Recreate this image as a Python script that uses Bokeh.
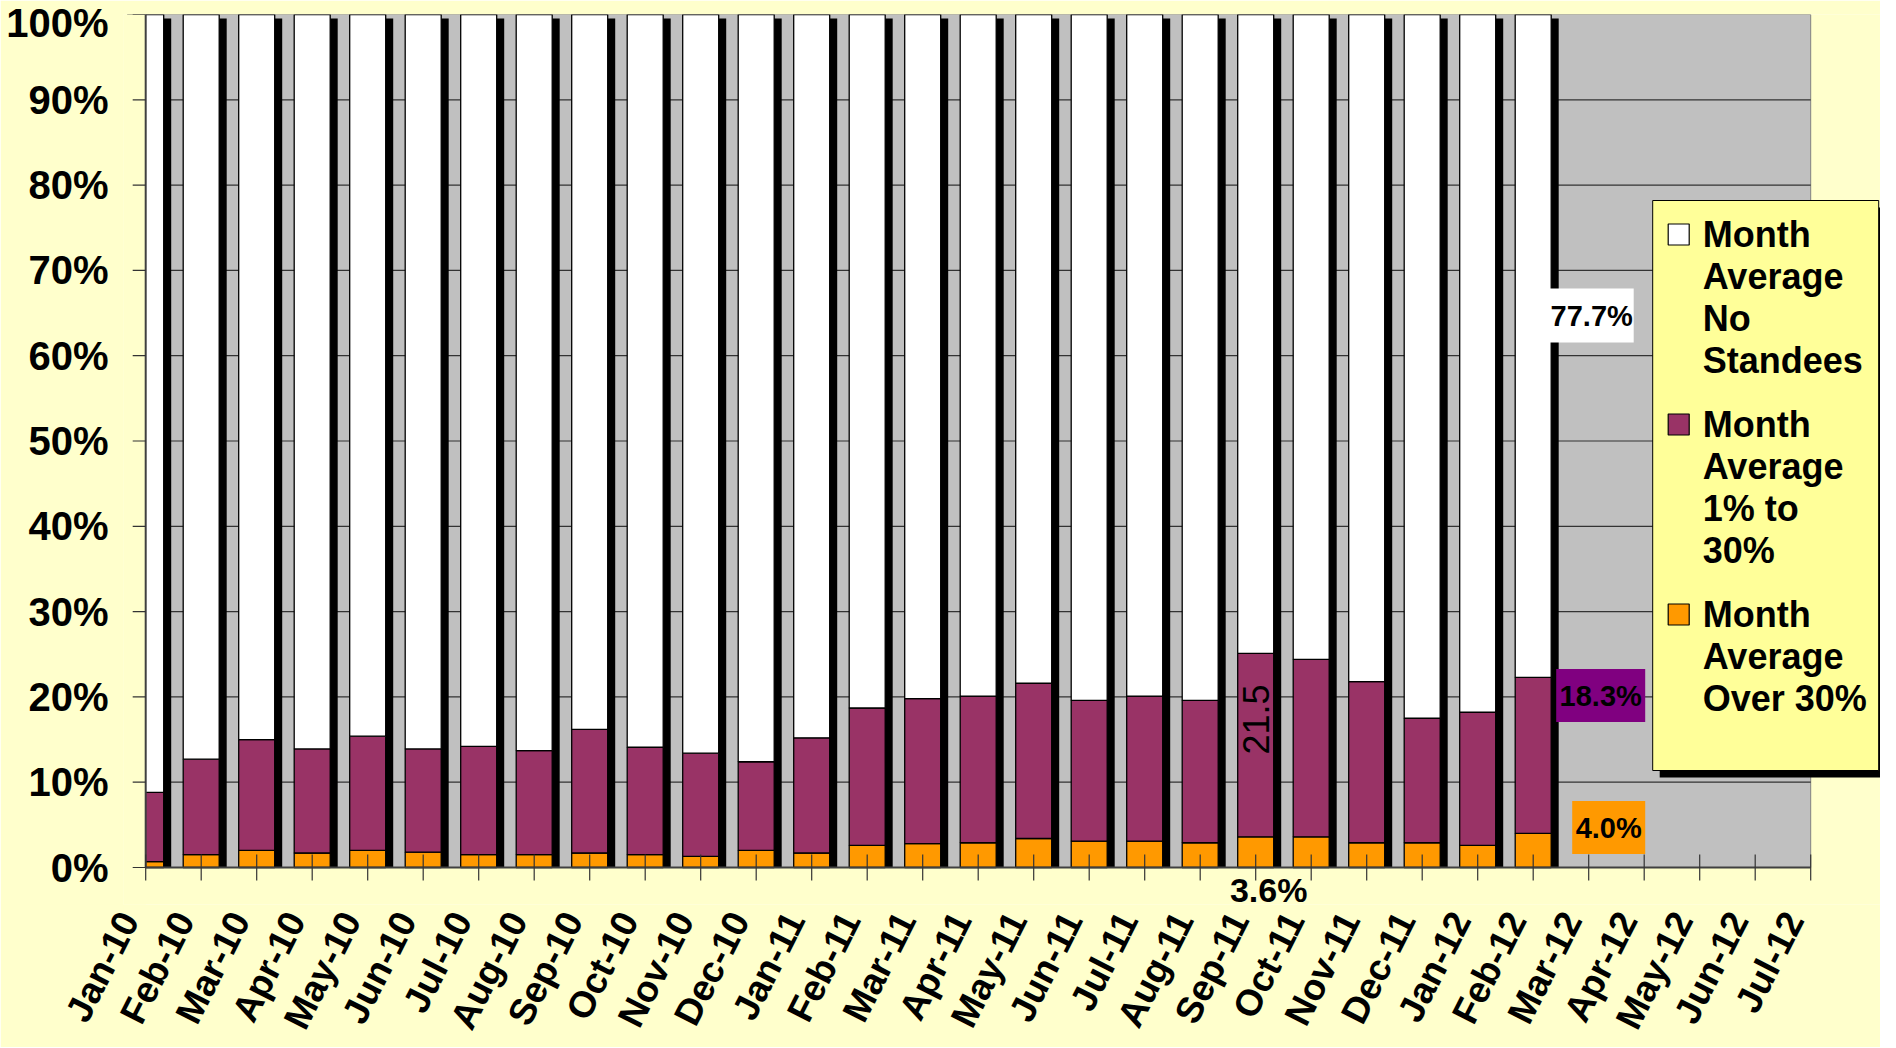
from bokeh.plotting import figure
from bokeh.models import Range1d, FixedTicker, PrintfTickFormatter, ColumnDataSource, CustomJSTickFormatter
from bokeh.embed import file_html
from bokeh.resources import INLINE
from bokeh.core.properties import value
from bokeh.transform import dodge
import math

# ---------------- data ----------------
months = ["Jan-10", "Feb-10", "Mar-10", "Apr-10", "May-10", "Jun-10", "Jul-10", "Aug-10",
          "Sep-10", "Oct-10", "Nov-10", "Dec-10", "Jan-11", "Feb-11", "Mar-11", "Apr-11",
          "May-11", "Jun-11", "Jul-11", "Aug-11", "Sep-11", "Oct-11", "Nov-11", "Dec-11",
          "Jan-12", "Feb-12", "Mar-12", "Apr-12", "May-12", "Jun-12", "Jul-12"]

# Month Average Over 30%
over30 = [0.7, 1.5, 2.0, 1.7, 2.0, 1.8, 1.5, 1.5, 1.7, 1.5, 1.3, 2.0, 1.7,
          2.6, 2.8, 2.9, 3.4, 3.1, 3.1, 2.9, 3.6, 3.6, 2.9, 2.9, 2.6, 4.0]
# Month Average 1% to 30%
mid = [8.1, 11.2, 13.0, 12.2, 13.4, 12.1, 12.7, 12.2, 14.5, 12.6, 12.1, 10.4, 13.5,
       16.1, 17.0, 17.2, 18.2, 16.5, 17.0, 16.7, 21.5, 20.8, 18.9, 14.6, 15.6, 18.3]
# Month Average No Standees
none_ = [91.2, 87.3, 85.0, 86.1, 84.6, 86.1, 85.8, 86.3, 83.8, 85.9, 86.6, 87.6, 84.8,
         81.3, 80.2, 79.9, 78.4, 80.4, 79.9, 80.4, 74.9, 75.6, 78.2, 82.5, 81.8, 77.7]

series_names = ["Month Average No Standees", "Month Average 1% to 30%", "Month Average Over 30%"]
legend_lines = [["Month", "Average", "No", "Standees"],
                ["Month", "Average", "1% to", "30%"],
                ["Month", "Average", "Over 30%"]]
y_ticks = [0, 10, 20, 30, 40, 50, 60, 70, 80, 90, 100]

# ---------------- style ----------------
FONT_NAME = "Liberation Sans"
FONT = value(FONT_NAME)
C_WHITE = "#FFFFFF"
C_PURPLE = "#993366"
C_ORANGE = "#FF9900"
C_PLOT = "#C0C0C0"
C_BG = "#FFFFCC"
C_LEG = "#FFFF99"

PX_X = 55.5            # px per category
PX_Y = 8.53            # px per percent
X_LOW = -0.4           # frame starts a little left of the plot area
Y_LOW = -37 / PX_Y     # frame reaches a little below the 0% line
FRAME_W = int(round(1735 - X_LOW * PX_X))
FRAME_H = int(round((100 - Y_LOW) * PX_Y))
LBL_SHIFT = 0.3        # label anchor shift so rotated label ends sit at the tick

n_cat = len(months)
last = n_cat - 1
src = ColumnDataSource(dict(x=list(range(len(over30))), over30=over30, mid=mid, none=none_))

p = figure(frame_width=FRAME_W, frame_height=FRAME_H,
           x_range=Range1d(X_LOW, X_LOW + FRAME_W / PX_X), y_range=Range1d(Y_LOW, 100),
           output_backend="svg", toolbar_location=None,
           min_border_left=int(round(145 + X_LOW * PX_X)), min_border_right=0,
           min_border_top=14, min_border_bottom=126)
p.background_fill_color = C_BG
p.border_fill_color = C_BG
p.outline_line_color = None
p.grid.visible = False

# plot area
p.quad(left=[0], right=[last], bottom=[0], top=[100], fill_color=C_PLOT,
       line_color="#808080", line_width=1)
gy = y_ticks[1:-1]
p.segment(x0=[0] * len(gy), x1=[last] * len(gy), y0=gy, y1=gy, line_color="#333333", line_width=1.2)

# bar shadows
bw = 36 / PX_X
p.vbar(x=dodge("x", 7.5 / PX_X), width=bw, top=100 - 4 / PX_Y, bottom=0, source=src,
       fill_color="black", line_color=None)
# stacked bars
p.vbar_stack(["over30", "mid", "none"], x="x", width=bw, source=src,
             fill_color=[C_ORANGE, C_PURPLE, C_WHITE], line_color="black", line_width=1.3)

# clip everything left of the plot area (first bar is cut in half by the axis)
p.quad(left=[X_LOW - 1], right=[0], bottom=[Y_LOW - 1], top=[101], fill_color=C_BG, line_color=None)

# axis lines and ticks
p.segment(x0=[0], x1=[last], y0=[0], y1=[0], line_color="#404040", line_width=2)
p.segment(x0=[0], x1=[0], y0=[0], y1=[100], line_color="#404040", line_width=2)
tk = list(range(n_cat))
p.segment(x0=tk, x1=tk, y0=[-13 / PX_Y] * n_cat, y1=[13 / PX_Y] * n_cat,
          line_color="#333333", line_width=1.2)
p.segment(x0=[-13 / PX_X] * len(y_ticks), x1=[0] * len(y_ticks), y0=y_ticks, y1=y_ticks,
          line_color="#333333", line_width=1.2)

# axes (labels only)
p.yaxis.ticker = FixedTicker(ticks=y_ticks)
p.yaxis.formatter = PrintfTickFormatter(format="%d%%")
p.yaxis.major_label_text_font = FONT_NAME
p.yaxis.major_label_text_font_style = "bold"
p.yaxis.major_label_text_font_size = "40px"
p.yaxis.major_label_text_color = "black"
p.yaxis.major_tick_out = 0
p.yaxis.major_tick_in = 0
p.yaxis.minor_tick_out = 0
p.yaxis.minor_tick_in = 0
p.yaxis.axis_line_color = None
p.yaxis.major_label_standoff = 15

p.xaxis.ticker = FixedTicker(ticks=[t - LBL_SHIFT for t in tk])
p.xaxis.formatter = CustomJSTickFormatter(args=dict(labels=months, shift=LBL_SHIFT),
                                          code="const i = Math.round(tick + shift); return labels[i] || '';")
p.xaxis.major_label_orientation = math.radians(63)
p.xaxis.major_label_text_font = FONT_NAME
p.xaxis.major_label_text_font_style = "bold"
p.xaxis.major_label_text_font_size = "37px"
p.xaxis.major_label_text_color = "black"
p.xaxis.major_tick_in = 0
p.xaxis.major_tick_out = 0
p.xaxis.minor_tick_out = 0
p.xaxis.minor_tick_in = 0
p.xaxis.axis_line_color = None
p.xaxis.major_label_standoff = 10

# ---------------- legend (drawn) ----------------
def dx(px):  # screenshot px -> data x
    return (px - 153) / PX_X

def dy(py):
    return (875 - py) / PX_Y

lx0, lx1, ly0, ly1 = 1660, 1886, 208, 778
p.quad(left=[dx(lx0 + 7)], right=[dx(lx1 + 7)], top=[dy(ly0 + 7)], bottom=[dy(ly1 + 7)],
       fill_color="black", line_color=None)
p.quad(left=[dx(lx0)], right=[dx(lx1)], top=[dy(ly0)], bottom=[dy(ly1)],
       fill_color=C_LEG, line_color="black", line_width=1)

sw_colors = [C_WHITE, C_PURPLE, C_ORANGE]
tx, ty, tt = [], [], []
sx, sy = [], []
y_start = 242
for k, lines in enumerate(legend_lines):
    y_item = y_start + 190 * k
    sx.append(dx(1686))
    sy.append(dy(y_item))
    for j, line in enumerate(lines):
        tx.append(dx(1710))
        ty.append(dy(y_item + 42 * j))
        tt.append(line)
p.rect(x=sx, y=sy, width=21, height=21, width_units="screen", height_units="screen",
       fill_color=sw_colors, line_color="black", line_width=1.2)
p.text(x=tx, y=ty, text=tt, text_font=FONT, text_font_style="bold", text_font_size="36px",
       text_baseline="middle", text_align="left", text_color="black")

# ---------------- data labels ----------------
lab_x = [dx(1599), dx(1608), dx(1616)]
lab_y = [dy(323), dy(703), dy(835)]
lab_t = [f"{none_[-1]}%", f"{mid[-1]}%", f"{over30[-1]}%"]
lab_bg = ["#FFFFFF", "#800080", C_ORANGE]
lab_w = [84, 89, 73]
lab_h = [54, 53, 53]
p.rect(x=lab_x, y=lab_y, width=lab_w, height=lab_h, width_units="screen", height_units="screen",
       fill_color=lab_bg, line_color=None)
p.text(x=lab_x, y=lab_y, text=lab_t, text_font=FONT, text_font_style="bold", text_font_size="29px",
       text_baseline="middle", text_align="center", text_color="black")

sep = months.index("Sep-11")
p.text(x=[dx(1276)], y=[dy(897)], text=[f"{over30[sep]}%"], text_font=FONT,
       text_font_style="bold", text_font_size="34px", text_align="center",
       text_baseline="middle", text_color="black")
p.text(x=[sep], y=[dy(727)], text=[f"{mid[sep]}"], text_font=FONT,
       text_font_style="normal", text_font_size="36px", text_align="center",
       text_baseline="middle", text_color="black", angle=math.pi / 2)

open("out.html", "w").write(file_html(p, INLINE))
